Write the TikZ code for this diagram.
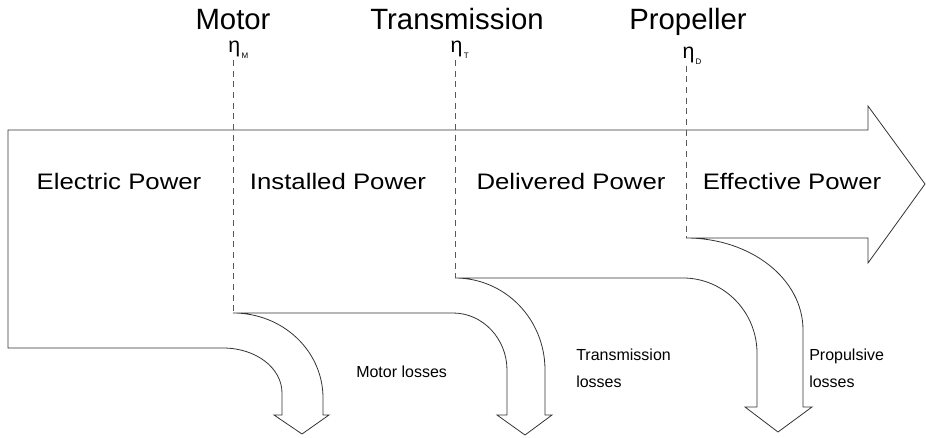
\documentclass[tikz,border=0pt]{standalone}
\usepackage{fontspec}
\setmainfont{Liberation Sans}
\newfontfamily\widesans[FakeStretch=1.15]{Liberation Sans}
\usetikzlibrary{positioning}
\tikzset{stage label/.style={font=\fontsize{22}{24}\selectfont,inner sep=0pt,anchor=base}}
\tikzset{eta label/.style={font=\fontsize{16}{18}\selectfont,inner sep=1pt}}
\tikzset{band label/.style={font=\widesans\fontsize{16.8}{18}\selectfont,inner sep=0pt}}
\tikzset{loss label/.style={font=\fontsize{12}{20}\selectfont,align=left,anchor=west,inner sep=0pt}}
\tikzset{flow/.style={draw=black!80,line width=0.6pt,line join=miter}}
\tikzset{cut/.style={draw=black!65,line width=0.5pt,dash pattern=on 4.5pt off 3.5pt}}
\newcommand{\etasub}[1]{η\kern1pt\raisebox{-4pt}{\fontsize{6}{6}\selectfont #1}}

\begin{document}
\begin{tikzpicture}[x=0.75pt,y=-0.75pt]
    \useasboundingbox (0,0) rectangle (926,438);
    % steps where the losses leave the flow
    \coordinate (m) at (233,313);
    \coordinate (t) at (455,278);
    \coordinate (p) at (686,238);

    % power flow with the three loss arrows
    \path[flow] (8,130) -- (868,130) -- (868,106) -- (925,184) -- (868,263) -- (868,238) -- (p)
        .. controls (751,238) and (803,279) .. (803,330) -- (803,407) -- (812,407) -- (778,432)
        -- (745,407) -- (757,407) -- (757,353) .. controls (757,312) and (724,278) .. (683,278)
        -- (t) .. controls (505,278) and (545,319) .. (545,370) -- (545,415) -- (552,415)
        -- (525,435) -- (497,415) -- (507,415) -- (507,370) .. controls (507,339) and (483,313) .. (453,313)
        -- (m) .. controls (283,313) and (323,351) .. (323,398) -- (323,415) -- (329,415)
        -- (302,434) -- (274,415) -- (282,415) -- (282,393) .. controls (282,368) and (256,348) .. (223,348)
        -- (8,348) -- cycle;

    \node[stage label] (motor) at (233,30) {Motor};
    \node[stage label] (trans) at (457,30) {Transmission};
    \node[stage label] (prop) at (688,30) {Propeller};
    \node[eta label] (etam) [below=7pt of motor, xshift=4pt] {\etasub{M}};
    \node[eta label] (etat) [below=7pt of trans, xshift=2pt] {\etasub{T}};
    \node[eta label] (etap) [below=7pt of prop, xshift=3pt] {\etasub{D}};

    \draw[cut] (etam.south -| m) -- (m);
    \draw[cut] (etat.south -| t) -- (t);
    \draw[cut] (etap.south -| p) -- (p);

    \node[band label] (elec) at (119,181) {Electric Power};
    \node[band label] (inst) at (338,181) {Installed Power};
    \node[band label] (deli) at (571,181) {Delivered Power};
    \node[band label] (effe) at (792,181) {Effective Power};

    \node[loss label] (mloss) at (356,372) {Motor losses};
    \node[loss label] (tloss) at (576,368) {Transmission\\losses};
    \node[loss label] (ploss) at (809,368) {Propulsive\\losses};
\end{tikzpicture}
\end{document}
